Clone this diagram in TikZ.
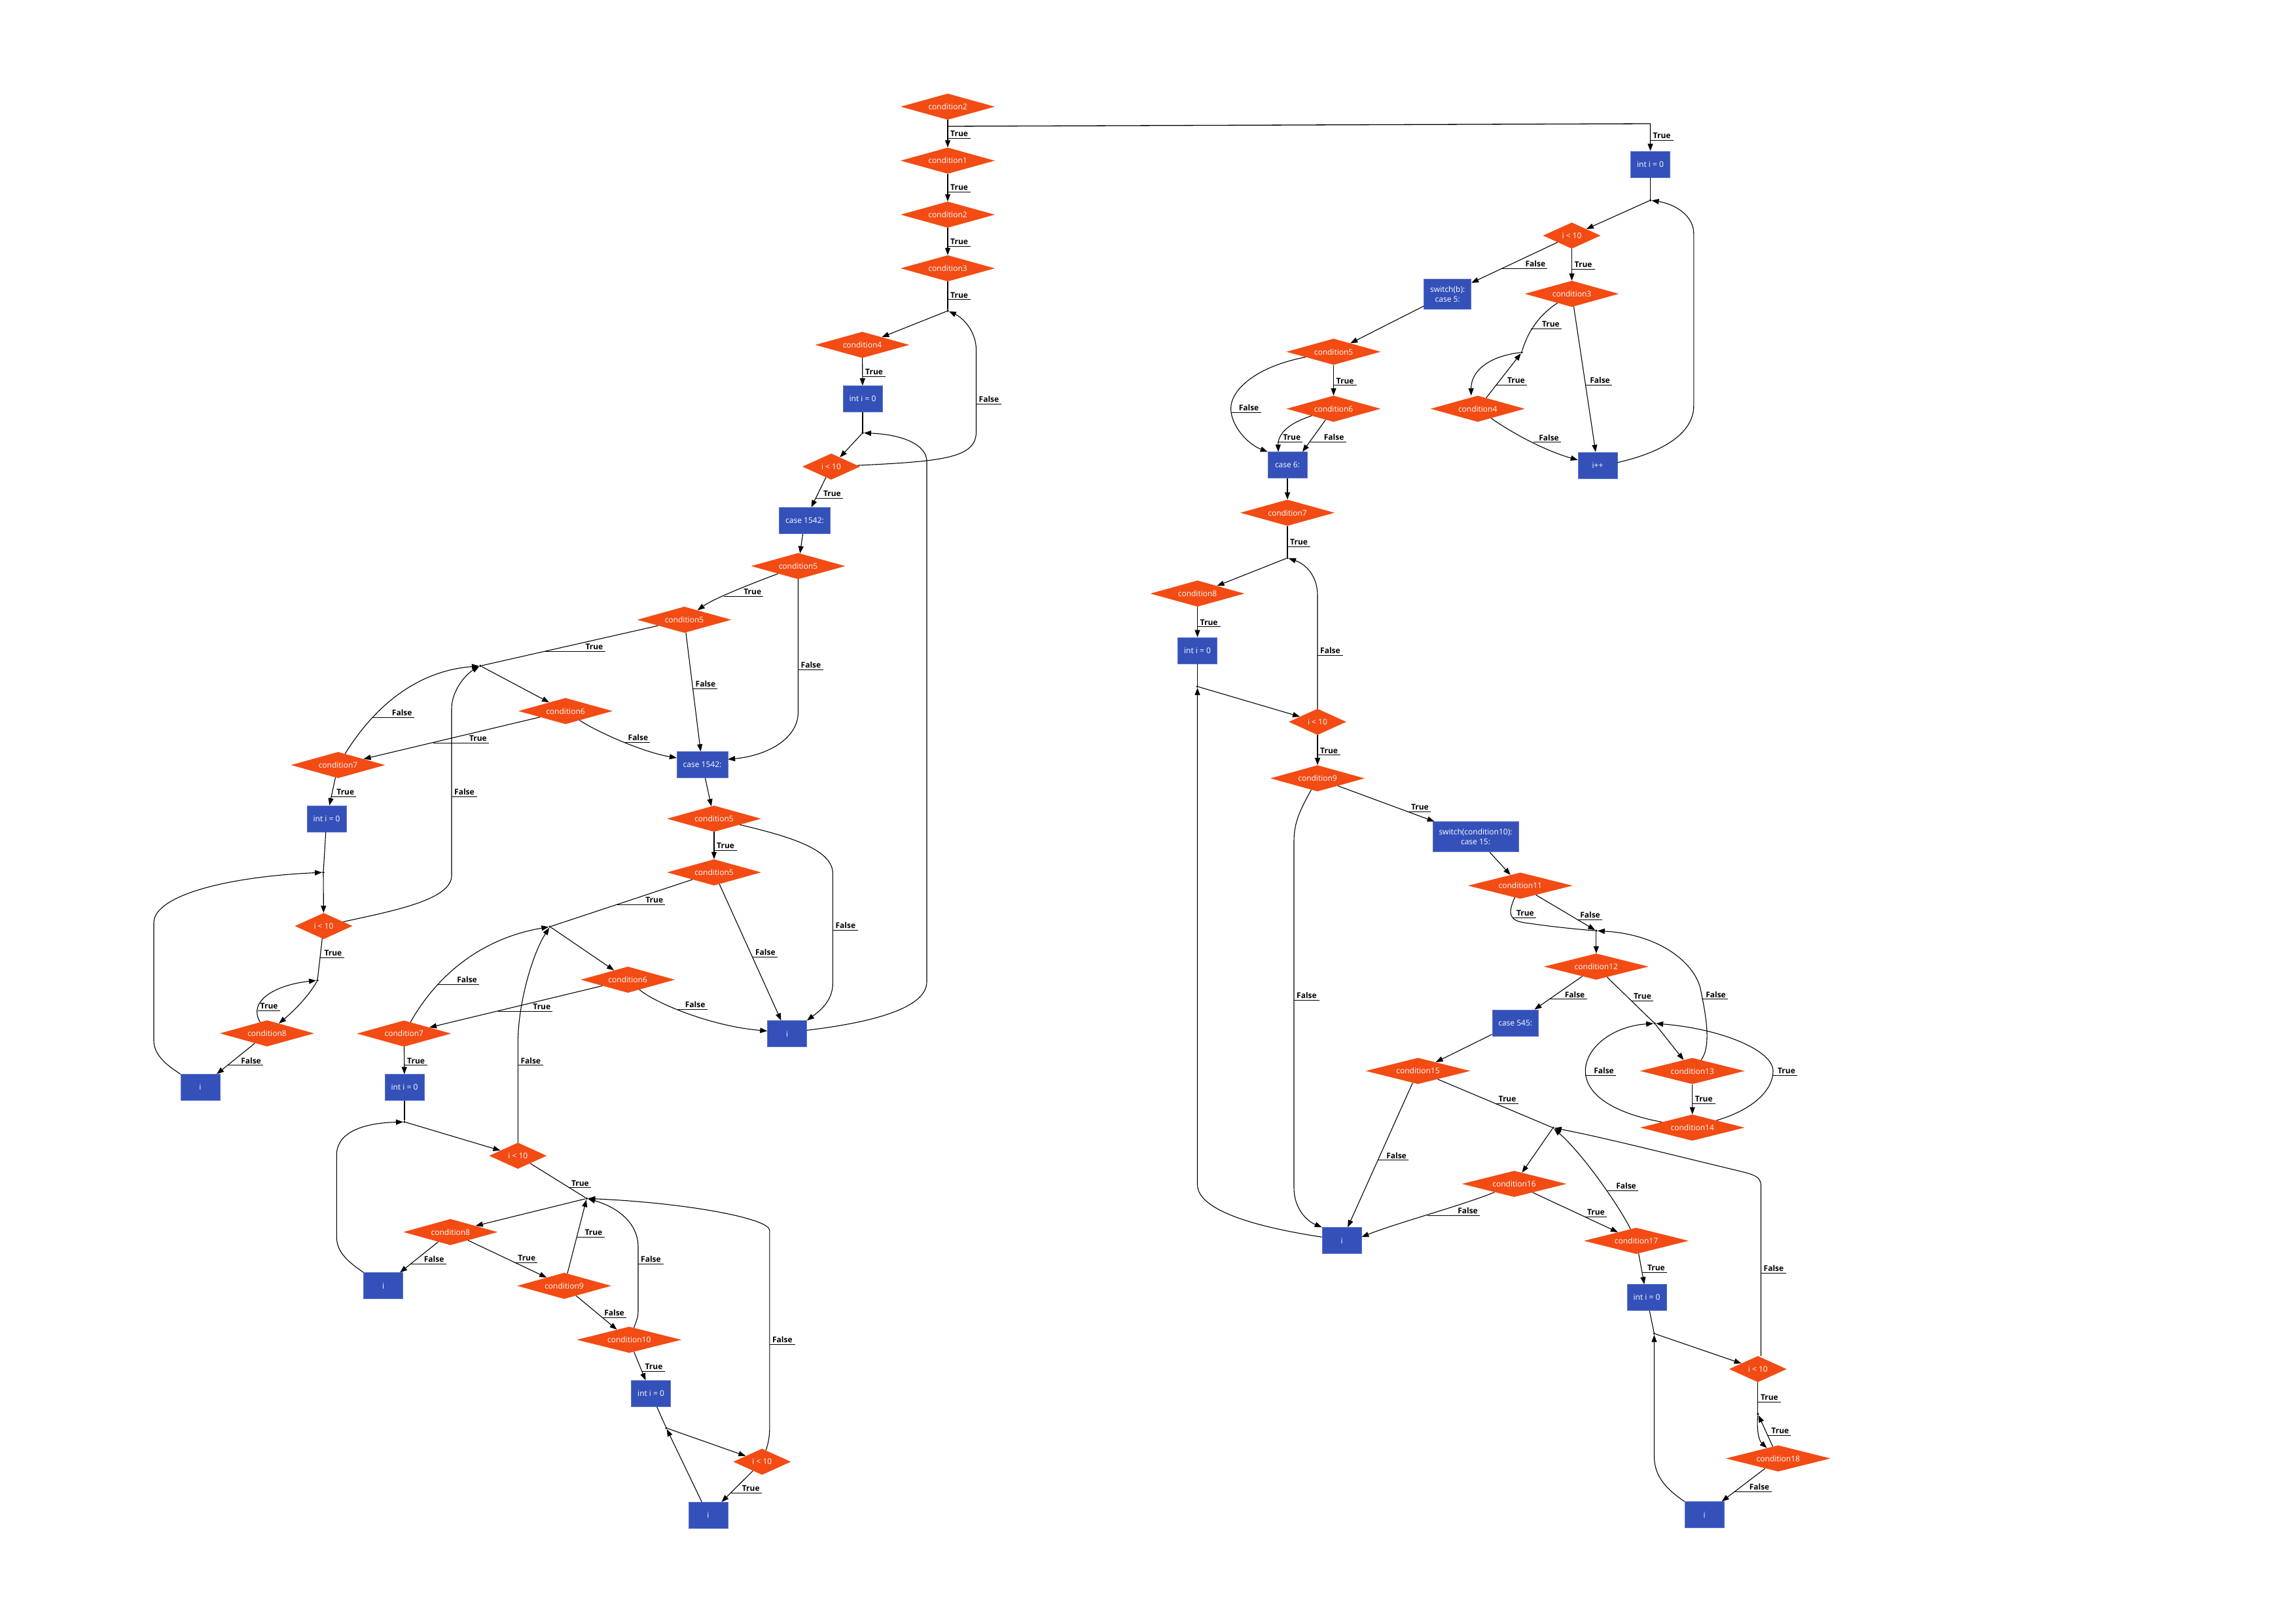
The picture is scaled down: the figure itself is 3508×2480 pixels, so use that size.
\documentclass[tikz,border=0pt]{standalone}
\usepackage{fontspec}
\setmainfont{Open Sans}
\usetikzlibrary{shapes.geometric,arrows.meta}
\definecolor{dorange}{RGB}{243,75,20}
\definecolor{dblue}{RGB}{52,81,185}
\definecolor{dblueline}{RGB}{95,115,205}
\tikzset{
 cond/.style={diamond, fill=dorange, draw=none, aspect=4, inner sep=0pt, minimum width=144pt, minimum height=40pt, text=white, font=\fontsize{12}{14.5}\selectfont},
 condl/.style={cond, minimum width=160pt},
 condi/.style={cond, minimum width=88pt},
 stmt/.style={rectangle, fill=dblue, draw=dblueline, line width=0.6pt, minimum width=60pt, minimum height=40pt, inner xsep=9.5pt, text=white, align=center, font=\fontsize{12}{14.5}\selectfont},
 stmt2/.style={stmt, minimum height=46pt},
 jn/.style={circle, fill=black, inner sep=0pt, minimum size=3.6pt},
 arr/.style={draw=black, line width=1.1pt, -{Triangle[length=11pt,width=8pt]}},
 ln/.style={draw=black, line width=1.1pt},
 lbl/.style={font=\bfseries\fontsize{12}{14}\selectfont, inner xsep=4pt, inner ysep=2.5pt, text depth=0pt, anchor=south west},
}
% label beside a vertical edge: underline from the edge point to the text end
\newcommand\elab[3]{\node[lbl] (#1) at (#2) {#3}; \draw[line width=0.9pt] (#2) -- (#1.south east);}
% label with an underline from the edge point (#2,#3) to x = #4, text at its right end
\newcommand\elabx[5]{\node[lbl,anchor=south east,inner xsep=3pt] (#1) at (#4,#3) {#5}; \draw[line width=0.9pt] (#2,#3) -- (#4,#3);}
\begin{document}
\begin{tikzpicture}[x=1pt,y=-1pt]
\fill[white] (0,0) rectangle (3508,2480);
\useasboundingbox (0,0) rectangle (3508,2480);
% ---------------- left column nodes
\node[cond] (c2a) at (1448,163) {condition2};
\node[cond] (c1) at (1448,245.5) {condition1};
\node[cond] (c2b) at (1448,328) {condition2};
\node[cond] (c3) at (1448,410) {condition3};
\node[jn] (j1) at (1448,475) {};
\node[cond] (c4) at (1317.5,527) {condition4};
\node[stmt] (i0a) at (1318,609.5) {int i = 0};
\node[jn] (j2) at (1318,661.5) {};
\node[condi] (lt1) at (1270,713) {i < 10};
\node[stmt] (cs1) at (1229.5,795.5) {case 1542:};
\node[cond] (c5a) at (1219.5,865) {condition5};
\node[cond] (c5b) at (1045.5,947) {condition5};
\node[jn] (j3) at (734,1017.5) {};
\node[cond] (c6a) at (864,1086.5) {condition6};
\node[cond] (c7a) at (516.5,1169) {condition7};
\node[stmt] (i0b) at (499,1251) {int i = 0};
\node[jn] (j4) at (494,1333) {};
\node[condi] (lt2) at (494.5,1415) {i < 10};
\node[jn] (j5) at (485,1498) {};
\node[cond] (c8a) at (408,1579) {condition8};
\node[stmt] (ia) at (306,1661.5) {i};
\node[stmt] (cs2) at (1073,1168.5) {case 1542:};
\node[cond] (c5c) at (1091,1251) {condition5};
\node[cond] (c5d) at (1091,1333) {condition5};
\node[jn] (j6) at (840.3,1416) {};
\node[cond] (c6b) at (959.2,1497) {condition6};
\node[cond] (c7b) at (617.3,1579.3) {condition7};
\node[stmt] (ib) at (1202.6,1579.6) {i};
\node[stmt] (i0c) at (618,1661.6) {int i = 0};
\node[jn] (j7) at (618,1714.3) {};
\node[condi] (lt3) at (791.3,1766) {i < 10};
\node[jn] (j8) at (896.4,1831.3) {};
\node[cond] (c8b) at (688.3,1882.6) {condition8};
\node[stmt] (ic) at (585.7,1964.7) {i};
\node[cond] (c9a) at (862,1964.8) {condition9};
\node[condl] (c10a) at (961.2,2047.2) {condition10};
\node[stmt] (i0d) at (994.6,2129.5) {int i = 0};
\node[jn] (j9) at (1018,2182) {};
\node[condi] (lt4) at (1164.3,2233.6) {i < 10};
\node[stmt] (id) at (1082,2315.4) {i};
% ---------------- right column nodes
\node[stmt] (ri0) at (2521.5,251) {int i = 0};
\node[jn] (rj1) at (2521.5,306) {};
\node[condi] (rlt1) at (2401.5,360) {i < 10};
\node[stmt2] (sw1) at (2211.7,449.3) {switch(b):\\case 5:};
\node[cond] (rc3) at (2401.5,449) {condition3};
\node[jn] (rj2) at (2325,538.4) {};
\node[cond] (rc4) at (2257.7,624.6) {condition4};
\node[stmt] (ipp) at (2441,711) {i++};
\node[cond] (rc5) at (2037.5,537.5) {condition5};
\node[cond] (rc6) at (2037.5,624.6) {condition6};
\node[stmt] (cs6) at (1967,710.7) {case 6:};
\node[cond] (rc7) at (1967,783.5) {condition7};
\node[jn] (rj3) at (1967,852.6) {};
\node[cond] (rc8) at (1829.5,907) {condition8};
\node[stmt] (ri0b) at (1829.5,994) {int i = 0};
\node[jn] (rj4) at (1829.5,1049) {};
\node[condi] (rlt2) at (2013,1103) {i < 10};
\node[cond] (rc9) at (2013,1189.3) {condition9};
\node[stmt2] (sw2) at (2254.5,1278.6) {switch(condition10):\\case 15:};
\node[condl] (rc11) at (2322.8,1353.3) {condition11};
\node[jn] (rj5) at (2438.8,1422.2) {};
\node[condl] (rc12) at (2438.8,1477) {condition12};
\node[stmt] (cs545) at (2315.2,1563) {case 545:};
\node[jn] (rj6) at (2528.1,1563.8) {};
\node[condl] (rc13) at (2585.7,1636.5) {condition13};
\node[condl] (rc14) at (2585.7,1723) {condition14};
\node[condl] (rc15) at (2166.5,1636.4) {condition15};
\node[jn] (rj7) at (2372.8,1723.3) {};
\node[condl] (rc16) at (2313.5,1809) {condition16};
\node[stmt] (ri) at (2050,1895.6) {i};
\node[condl] (rc17) at (2500,1896) {condition17};
\node[stmt] (ri0c) at (2516,1982.6) {int i = 0};
\node[jn] (rj8) at (2527.4,2037.7) {};
\node[condi] (rlt3) at (2685.8,2092) {i < 10};
\node[jn] (rj9) at (2685.8,2160.6) {};
\node[condl] (rc18) at (2716.8,2228.5) {condition18};
\node[stmt] (rid) at (2604,2314.6) {i};
% ---------------- left edges
\draw[arr] (c2a) -- (c1);
\draw[arr, line width=1.3pt] (c2a.south) -- (1448,193) -- (2521.5,189) -- (ri0.north);
\draw[arr] (c1) -- (c2b);
\draw[arr] (c2b) -- (c3);
\draw[ln] (c3) -- (j1);
\draw[arr] (j1) -- (c4);
\draw[arr] (c4) -- (i0a);
\draw[ln] (i0a) -- (j2);
\draw[arr] (j2) -- (lt1);
\draw[arr] (lt1) .. controls (1440,705) and (1491.5,700) .. (1491.5,660) -- (1491.5,535) .. controls (1491.5,505) and (1470,485) .. (j1);
\draw[arr] (lt1) -- (cs1);
\draw[arr] (cs1) -- (c5a);
\draw[arr] (ib.10) .. controls (1335,1562) and (1416,1540) .. (1416,1500) -- (1416,705) .. controls (1416,680) and (1380,664) .. (j2);
\draw[arr] (c5a) .. controls (1140,895) and (1090,915) .. (c5b);
\draw[arr] (c5a.south) -- (1219.5,1088) .. controls (1219.5,1130) and (1170,1155) .. (cs2.12);
\draw[ln] (c5b) -- (j3);
\draw[arr] (c5b) -- (cs2);
\draw[arr] (j3) -- (c6a);
\draw[arr] (c6a) .. controls (915,1120) and (985,1150) .. (cs2.165);
\draw[arr] (c6a) -- (c7a);
\draw[arr] (c7a) .. controls (575,1075) and (640,1025) .. (j3);
\draw[arr] (c7a) -- (i0b);
\draw[ln] (i0b) -- (j4);
\draw[arr] (j4) -- (lt2);
\draw[arr] (lt2) .. controls (600,1392) and (690,1375) .. (690,1338) -- (690,1083) .. controls (690,1055) and (712,1030) .. (j3);
\draw[ln] (lt2) -- (j5);
\draw[arr] (j5) .. controls (470,1525) and (445,1548) .. (c8a);
\draw[arr] (c8a) .. controls (378,1530) and (420,1505) .. (j5);
\draw[arr] (c8a) -- (ia);
\draw[arr] (ia.north west) .. controls (255,1628) and (235,1612) .. (235,1590) -- (235,1410) .. controls (235,1370) and (340,1340) .. (j4);
\draw[arr] (cs2) -- (c5c);
\draw[arr] (c5c) -- (c5d);
\draw[arr] (c5c) .. controls (1215,1280) and (1272.4,1300) .. (1272.4,1335) -- (1272.4,1502) .. controls (1272.4,1530) and (1252,1545) .. (ib.north east);
\draw[ln] (c5d) -- (j6);
\draw[arr] (c5d) -- (ib);
\draw[arr] (j6) -- (c6b);
\draw[arr] (c6b) .. controls (1000,1532) and (1085,1568) .. (ib.172);
\draw[arr] (c6b) -- (c7b);
\draw[arr] (c7b) .. controls (665,1495) and (730,1435) .. (j6);
\draw[arr] (c7b) -- (i0c);
\draw[ln] (i0c) -- (j7);
\draw[arr] (j7) -- (lt3);
\draw[arr] (lt3.north) -- (791.3,1595) .. controls (791.3,1530) and (815,1455) .. (j6);
\draw[ln] (lt3) -- (j8);
\draw[arr] (j8) -- (c8b);
\draw[arr] (c8b) -- (ic);
\draw[arr] (c8b) -- (c9a);
\draw[arr] (ic.north west) .. controls (535,1930) and (514.3,1915) .. (514.3,1890) -- (514.3,1765) .. controls (514.3,1730) and (555,1716) .. (j7);
\draw[arr] (c9a) -- (j8);
\draw[arr] (c9a) -- (c10a);
\draw[arr] (c10a) .. controls (975,2012) and (975,2010) .. (975,2000) -- (975,1905) .. controls (975,1870) and (945,1845) .. (j8);
\draw[arr] (c10a) -- (i0d);
\draw[ln] (i0d) -- (j9);
\draw[arr] (j9) -- (lt4);
\draw[arr] (lt4) .. controls (1174,2205) and (1175.9,2195) .. (1175.9,2180) -- (1175.9,1880) .. controls (1175.9,1862) and (1050,1838) .. (j8);
\draw[arr] (lt4) -- (id);
\draw[arr] (id) -- (j9);
% ---------------- right edges
\draw[ln] (ri0) -- (rj1);
\draw[arr] (rj1) -- (rlt1);
\draw[arr] (rlt1) -- (sw1);
\draw[arr] (rlt1) -- (rc3);
\draw[ln] (rc3) .. controls (2350,482) and (2333,510) .. (rj2);
\draw[arr] (rc3) -- (ipp);
\draw[arr] (rj2) .. controls (2270,545) and (2247.4,570) .. ([xshift=-10pt]rc4.north);
\draw[arr] (rc4) -- (rj2);
\draw[arr] (rc4) .. controls (2315,665) and (2365,690) .. (ipp.165);
\draw[arr] (ipp.8) .. controls (2545,690) and (2587.8,660) .. (2587.8,620) -- (2587.8,357) .. controls (2587.8,330) and (2560,312) .. (rj1);
\draw[arr] (sw1) -- (rc5);
\draw[arr] (rc5) -- (rc6);
\draw[arr] (rc5) .. controls (1920,560) and (1880,595) .. (1880.6,625) .. controls (1881,650) and (1905,678) .. (cs6.north west);
\draw[arr] (rc6) .. controls (1965,648) and (1952.5,665) .. ([xshift=-14pt]cs6.north);
\draw[arr] (rc6) -- ([xshift=23pt]cs6.north);
\draw[arr] (cs6) -- (rc7);
\draw[ln] (rc7) -- (rj3);
\draw[arr] (rj3) -- (rc8);
\draw[arr] (rc8) -- (ri0b);
\draw[ln] (ri0b) -- (rj4);
\draw[arr] (rj4) -- (rlt2);
\draw[arr] (rlt2.north) -- (2013,910) .. controls (2013,880) and (1995,862) .. (rj3);
\draw[arr] (rlt2) -- (rc9);
\draw[arr] (rc9) -- (sw2);
\draw[arr] (rc9) .. controls (1988,1235) and (1977,1255) .. (1977,1285) -- (1977,1815) .. controls (1977,1845) and (1995,1865) .. (ri.north west);
\draw[arr] (sw2) -- (rc11);
\draw[ln] (rc11) .. controls (2302,1398) and (2308,1407) .. (2330,1410) .. controls (2370,1416) and (2410,1420) .. (rj5);
\draw[arr] (rc11) -- (rj5);
\draw[arr] (rj5) -- (rc12);
\draw[arr] (rc12) -- (cs545);
\draw[ln] (rc12) -- (rj6);
\draw[arr] (rj6) -- (rc13);
\draw[arr] (rc13) .. controls (2616,1598) and (2605,1545) .. (2598.7,1514) .. controls (2592,1475) and (2540,1428) .. (rj5);
\draw[arr] (rc13) -- (rc14);
\draw[arr] (rc14) .. controls (2460,1700) and (2422.3,1670) .. (2422.3,1636.5) .. controls (2422.3,1600) and (2465,1568) .. (rj6);
\draw[arr] (rc14) .. controls (2680,1695) and (2709,1665) .. (2709,1636.5) .. controls (2709,1605) and (2630,1572) .. (rj6);
\draw[arr] (cs545) -- (rc15);
\draw[ln] (rc15) -- (rj7);
\draw[arr] (rc15) -- (ri);
\draw[arr] (rj7) -- (rc16);
\draw[arr] (rc16) .. controls (2240,1840) and (2130,1870) .. (ri.10);
\draw[arr] (rc16) -- (rc17);
\draw[arr] (rc17) .. controls (2475,1845) and (2420,1765) .. (rj7);
\draw[arr] (rc17) -- (ri0c);
\draw[ln] (ri0c) -- (rj8);
\draw[arr] (rj8) -- (rlt3);
\draw[arr] ([xshift=4.7pt]rlt3.north) -- (2690.5,1812) .. controls (2690.5,1798) and (2680,1795) .. (2660,1790) .. controls (2560,1766) and (2450,1738) .. (rj7);
\draw[ln] (rlt3) -- (rj9);
\draw[arr] (rj9) .. controls (2684,2180) and (2686,2200) .. (rc18);
\draw[arr] (rc18) -- (rj9);
\draw[arr] (rc18) -- (rid);
\draw[arr] (rid.north west) .. controls (2545,2275) and (2527.4,2255) .. (2527.4,2225) -- (rj8);
\draw[arr] (ri.170) .. controls (1900,1872) and (1829.5,1845) .. (1829.5,1810) -- (rj4);
% ---------------- labels left
\elab{l1}{1448,211.4}{True}
\elab{l2}{2521.5,214.7}{True}
\elab{l3}{1448,293.7}{True}
\elab{l4}{1448,376}{True}
\elab{l5}{1448,457.8}{True}
\elab{l6}{1318,575}{True}
\elab{l7}{1491.5,617}{False}
\elabx{l8}{1245.5}{761.5}{1288}{True}
\elabx{l9}{1106}{911}{1166.3}{True}
\elab{l10}{1219.5,1023}{False}
\elabx{l11}{832.7}{995}{924.5}{True}
\elabx{l12}{1058.6}{1052.6}{1096.4}{False}
\elabx{l13}{952.5}{1134}{993.4}{False}
\elabx{l14}{661.7}{1135}{747}{True}
\elabx{l15}{570}{1096}{632.7}{False}
\elabx{l16}{506.3}{1217}{544.4}{True}
\elab{l17}{690,1217}{False}
\elabx{l18}{489}{1463}{525.5}{True}
\elabx{l19}{393.5}{1544}{427.7}{True}
\elabx{l20}{348}{1627.7}{402}{False}
\elab{l21}{1091,1299}{True}
\elab{l22}{1272.4,1421.4}{False}
\elabx{l23}{942}{1382}{1016.3}{True}
\elabx{l24}{1149.6}{1462.5}{1187.8}{False}
\elabx{l25}{1036}{1542}{1080.6}{False}
\elabx{l26}{761.2}{1545}{844.4}{True}
\elabx{l27}{669}{1504.5}{732}{False}
\elab{l28}{618,1627.7}{True}
\elab{l29}{791.3,1627.7}{False}
\elabx{l30}{870}{1814.7}{903}{True}
\elabx{l31}{627.5}{1931.3}{681.6}{False}
\elabx{l32}{785.7}{1929}{821.4}{True}
\elabx{l33}{881.2}{1890.2}{923.5}{True}
\elabx{l34}{920.5}{2013.4}{957}{False}
\elab{l35}{975,1931.2}{False}
\elabx{l36}{980.8}{2095.4}{1015.6}{True}
\elab{l37}{1175.9,2054.5}{False}
\elabx{l38}{1116.2}{2281.4}{1163.8}{True}
% ---------------- labels right
\elabx{r1}{2295}{410.1}{2364.3}{False}
\elab{r2}{2401.5,411.2}{True}
\elabx{r3}{2339.4}{502.4}{2386}{True}
\elabx{r4}{2422.5}{588.2}{2463}{False}
\elabx{r5}{2286.1}{588.2}{2333}{True}
\elabx{r6}{2343}{675.7}{2385}{False}
\elab{r7}{2037.5,588.8}{True}
\elabx{r8}{1880.8}{630.4}{1926.5}{False}
\elabx{r9}{1952.3}{675}{1990.3}{True}
\elabx{r10}{2002}{675}{2056.6}{False}
\elab{r11}{1967,835}{True}
\elab{r12}{1829.5,957.8}{True}
\elab{r13}{2013,1001.4}{False}
\elab{r14}{2013,1153.7}{True}
\elabx{r15}{2150.4}{1240}{2186}{True}
\elab{r16}{1977,1528}{False}
\elabx{r17}{2311}{1402}{2347}{True}
\elabx{r18}{2409.8}{1405}{2448}{False}
\elabx{r19}{2367.4}{1526.7}{2424.5}{False}
\elabx{r20}{2492.4}{1529}{2526}{True}
\elabx{r21}{2600}{1526.7}{2640}{False}
\elab{r22}{2585.7,1686.2}{True}
\elabx{r23}{2422.3}{1643}{2469}{False}
\elabx{r24}{2709}{1643}{2746}{True}
\elabx{r25}{2284.8}{1686.2}{2319.6}{True}
\elabx{r26}{2105.2}{1772.8}{2152}{False}
\elabx{r27}{2181}{1857}{2261}{False}
\elabx{r28}{2421.8}{1859.5}{2455}{True}
\elabx{r29}{2455}{1819}{2503}{False}
\elabx{r30}{2508.9}{1944.4}{2547}{True}
\elab{r31}{2690.5,1945.3}{False}
\elab{r32}{2685.8,2142}{True}
\elabx{r33}{2700.6}{2193.1}{2736.4}{True}
\elabx{r34}{2650.4}{2279.2}{2706.5}{False}
\end{tikzpicture}
\end{document}
